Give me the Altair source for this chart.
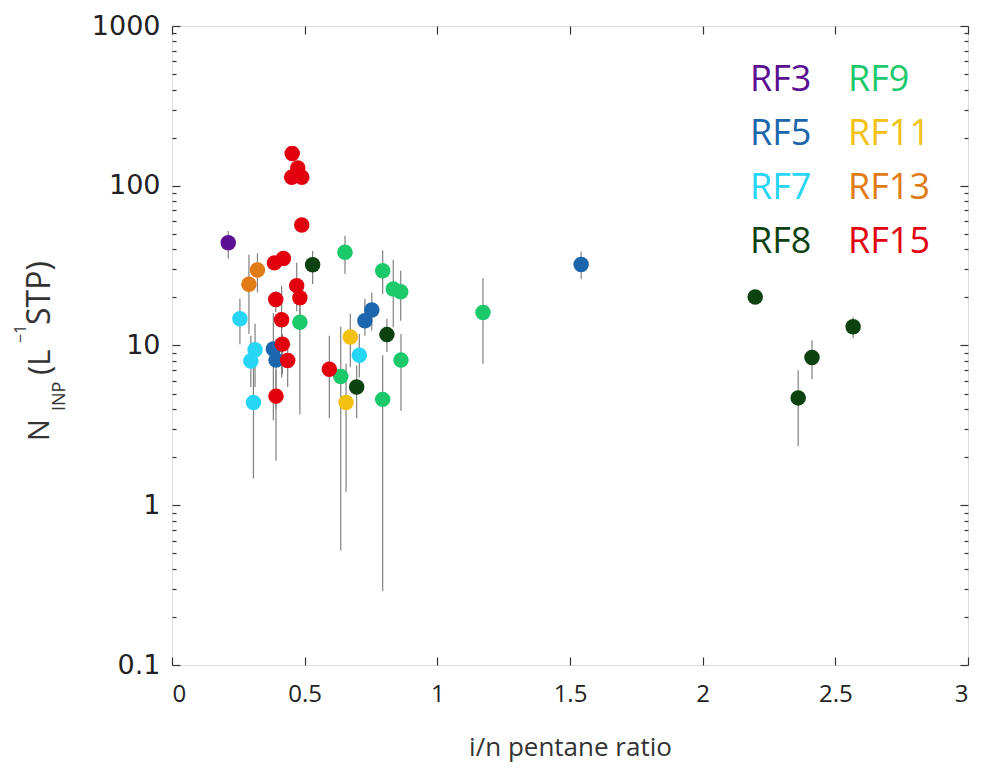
import altair as alt
import pandas as pd

# ---------------- data ----------------
flights = ["RF3", "RF5", "RF7", "RF8", "RF9", "RF11", "RF13", "RF15"]
colors = ["#5b0f91", "#1c66ad", "#27d5f5", "#0b4210", "#1cc96a", "#f2c112", "#e17b15", "#e2000f"]

rf3_x = [0.212]
rf3_y = [44]
rf3_lo = [35]
rf3_hi = [52]

rf5_x = [0.382, 0.392, 0.727, 0.753, 1.542]
rf5_y = [9.5, 8.1, 14.3, 16.7, 32.1]
rf5_lo = [3.4, 4.0, 11.5, 12.4, 26.0]
rf5_hi = [16.0, 11.0, 19.6, 21.5, 38.7]

rf7_x = [0.256, 0.313, 0.297, 0.307, 0.706]
rf7_y = [14.7, 9.4, 8.0, 4.4, 8.7]
rf7_lo = [10.2, 5.5, 5.5, 1.47, 6.3]
rf7_hi = [19.6, 13.7, 11.5, 7.4, 11.8]

rf8_x = [0.530, 0.810, 0.696, 2.198, 2.360, 2.412, 2.567]
rf8_y = [32.0, 11.7, 5.5, 20.1, 4.7, 8.4, 13.1]
rf8_lo = [24.3, 9.1, 3.5, 20.1, 2.35, 6.15, 11.1]
rf8_hi = [39.0, 14.7, 7.5, 20.1, 7.0, 10.8, 15.0]

rf9_x = [0.482, 0.652, 0.794, 0.834, 0.862, 0.636, 0.794, 0.863, 1.172]
rf9_y = [14.0, 38.3, 29.4, 22.6, 21.7, 6.4, 4.6, 8.1, 16.1]
rf9_lo = [3.7, 28.0, 21.0, 13.0, 14.3, 0.52, 0.29, 3.9, 7.7]
rf9_hi = [18.0, 48.7, 39.4, 34.3, 29.4, 13.1, 8.7, 11.8, 26.4]

rf11_x = [0.672, 0.656]
rf11_y = [11.3, 4.4]
rf11_lo = [7.3, 1.21]
rf11_hi = [15.8, 7.7]

rf13_x = [0.322, 0.290]
rf13_y = [29.7, 24.2]
rf13_lo = [21.5, 11.8]
rf13_hi = [37.8, 37.0]

rf15_x = [0.453, 0.474, 0.451, 0.489, 0.489, 0.386, 0.420, 0.470, 0.482, 0.391,
          0.413, 0.416, 0.436, 0.392, 0.593]
rf15_y = [159, 129, 113, 113, 56.8, 32.9, 35.0, 23.7, 19.9, 19.4,
          14.5, 10.2, 8.06, 4.82, 7.1]
rf15_lo = [159, 129, 113, 113, 56.8, 32.9, 35.0, 16.4, 15.5, 16.2,
           6.3, 6.6, 5.5, 1.9, 3.5]
rf15_hi = [159, 129, 113, 113, 56.8, 32.9, 35.0, 33.0, 24.0, 22.0,
           23.7, 11.8, 11.0, 7.0, 11.5]

x_major = [0, 0.5, 1, 1.5, 2, 2.5, 3]
y_major = [0.1, 1, 10, 100, 1000]
y_minor = [0.2, 0.3, 0.4, 0.5, 0.6, 0.7, 0.8, 0.9,
           2, 3, 4, 5, 6, 7, 8, 9,
           20, 30, 40, 50, 60, 70, 80, 90,
           200, 300, 400, 500, 600, 700, 800, 900]

series = [
    ("RF3", rf3_x, rf3_y, rf3_lo, rf3_hi),
    ("RF5", rf5_x, rf5_y, rf5_lo, rf5_hi),
    ("RF7", rf7_x, rf7_y, rf7_lo, rf7_hi),
    ("RF8", rf8_x, rf8_y, rf8_lo, rf8_hi),
    ("RF9", rf9_x, rf9_y, rf9_lo, rf9_hi),
    ("RF11", rf11_x, rf11_y, rf11_lo, rf11_hi),
    ("RF13", rf13_x, rf13_y, rf13_lo, rf13_hi),
    ("RF15", rf15_x, rf15_y, rf15_lo, rf15_hi),
]
rows = []
for name, xs, ys, los, his in series:
    for a, b, c, d in zip(xs, ys, los, his):
        rows.append({"flight": name, "ratio": a, "ninp": b, "lo": c, "hi": d})
df = pd.DataFrame(rows)

# ---------------- chart ----------------
FONT = "Open Sans"
AX = "#333333"
xscale = alt.Scale(domain=[0, 3], nice=False, zero=False)
yscale = alt.Scale(type="log", domain=[0.1, 1000], nice=False)

base = alt.Chart(df)

bars = base.transform_filter("datum.lo < datum.hi").mark_rule(
    color="#808080", strokeWidth=1.2
).encode(
    x=alt.X("ratio:Q", scale=xscale,
            axis=alt.Axis(orient="bottom", values=x_major, format="~g",
                          tickSize=8, offset=-8, domain=False, grid=False,
                          tickColor=AX, tickWidth=1.2,
                          labelFont=FONT, labelFontSize=24, labelColor="#222222",
                          labelPadding=17,
                          title="i/n pentane ratio", titleFont=FONT,
                          titleFontSize=26, titleFontWeight="normal",
                          titleColor="#333333", titlePadding=28)),
    y=alt.Y("lo:Q", scale=yscale,
            axis=alt.Axis(orient="left", values=y_major, format="~g",
                          tickSize=8, offset=-8, domain=False, grid=False,
                          tickColor=AX, tickWidth=1.2,
                          labelFont="DejaVu Sans", labelFontSize=27,
                          labelColor="#222222", labelPadding=12, title=None)),
    y2="hi:Q",
)

points = base.mark_circle(size=240, opacity=1).encode(
    x=alt.X("ratio:Q", scale=xscale,
            axis=alt.Axis(orient="top", values=x_major, tickSize=8, offset=-8,
                          labels=False, domain=False, grid=False,
                          tickColor=AX, tickWidth=1.2, title=None)),
    y=alt.Y("ninp:Q", scale=yscale,
            axis=alt.Axis(orient="right", values=y_major, tickSize=8, offset=-8,
                          labels=False, domain=False, grid=False,
                          tickColor=AX, tickWidth=1.2, title=None)),
    color=alt.Color(
        "flight:N",
        scale=alt.Scale(domain=flights, range=colors),
        legend=alt.Legend(
            orient="none", legendX=542, legendY=36, title=None, columns=2,
            symbolSize=0, symbolOpacity=0, symbolStrokeWidth=0,
            labelFont=FONT, labelFontSize=36, labelOffset=0,
            rowPadding=18, columnPadding=0, labelLimit=0,
            labelColor=alt.ExprRef("scale('color', datum.value)"),
        ),
    ),
)

minor_left = base.mark_circle(opacity=0).encode(
    x=alt.X("ratio:Q", scale=xscale, axis=None),
    y=alt.Y("ninp:Q", scale=yscale,
            axis=alt.Axis(orient="left", values=y_minor, tickSize=4, offset=-4,
                          labels=False, domain=False, grid=False,
                          tickColor=AX, tickWidth=1.2, title=None)),
)
minor_right = base.mark_circle(opacity=0).encode(
    x=alt.X("ratio:Q", scale=xscale, axis=None),
    y=alt.Y("ninp:Q", scale=yscale,
            axis=alt.Axis(orient="right", values=y_minor, tickSize=4, offset=-4,
                          labels=False, domain=False, grid=False,
                          tickColor=AX, tickWidth=1.2, title=None)),
)

# y-axis title with subscript / superscript pieces
one = pd.DataFrame({"k": [0]})
def piece(txt, size, px, py):
    return alt.Chart(one).mark_text(
        text=txt, font=FONT, fontSize=size, angle=270, align="left",
        baseline="alphabetic", color="#333333"
    ).encode(x=alt.value(px), y=alt.value(py))

ytitle = [
    piece("N", 29, 49 - 172, 441 - 26),
    piece("INP", 18, 65 - 172, 411 - 26),
    piece("(L", 31, 50 - 172, 375 - 26),
    piece("\u22121", 16, 26 - 172, 343 - 26),
    piece("STP)", 32, 50 - 172, 325 - 26),
]

chart = alt.layer(bars, minor_left, minor_right, points, *ytitle).resolve_axis(
    x="independent", y="independent"
).properties(
    width=796, height=639,
    padding={"left": 172, "top": 26, "right": 13, "bottom": 103},
    autosize="none",
).configure_view(
    stroke=AX, strokeWidth=1.3
).configure(background="white")

chart.save("out.html", embed_options={"renderer": "svg", "actions": False})
